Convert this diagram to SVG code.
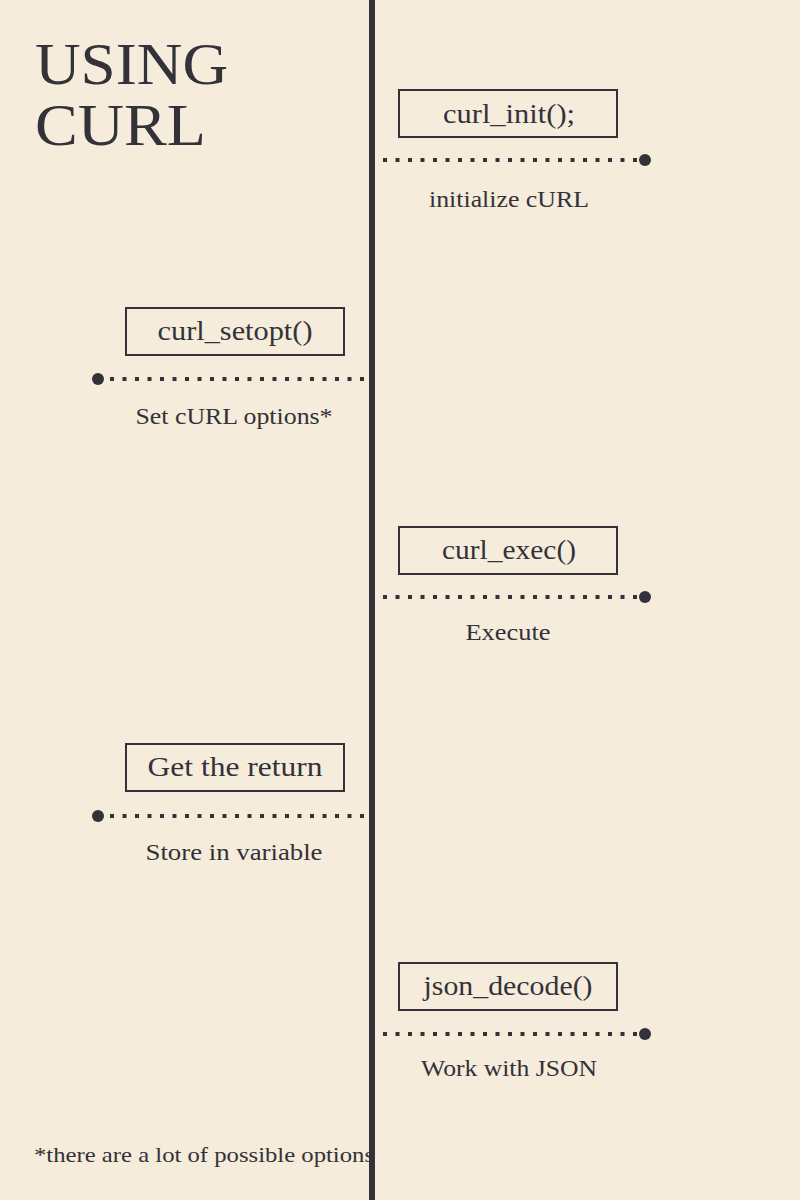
<svg xmlns="http://www.w3.org/2000/svg" width="800" height="1200" viewBox="0 0 800 1200">
<style>
.box{fill:none;stroke:#333238;stroke-width:2}
.fn{font-family:"Liberation Serif",serif;font-size:28px;fill:#333238;text-anchor:middle}
.lb{font-family:"Liberation Serif",serif;font-size:24px;fill:#333238;text-anchor:middle}
.dots{stroke:#333238;stroke-width:4;stroke-dasharray:4 8.5;fill:none}
.end{fill:#333238}
.title{font-family:"Liberation Serif",serif;font-size:60px;fill:#333238}
</style>
<rect width="800" height="1200" fill="#f5ecdc"/>
<g id="title">
<text class="title" x="35" y="84" textLength="193" lengthAdjust="spacingAndGlyphs">USING</text>
<text class="title" x="35" y="145" textLength="171" lengthAdjust="spacingAndGlyphs">CURL</text>
</g>
<g id="footnote">
<text x="34" y="1162" font-family="Liberation Serif, serif" font-size="21" fill="#333238" textLength="340" lengthAdjust="spacingAndGlyphs">*there are a lot of possible options</text>
</g>
<g id="connectors">
<line class="dots" x1="383" y1="160" x2="640" y2="160"/>
<circle class="end" cx="645" cy="160" r="6"/>
<line class="dots" x1="110" y1="379" x2="365" y2="379"/>
<circle class="end" cx="98" cy="379" r="6"/>
<line class="dots" x1="383" y1="597" x2="640" y2="597"/>
<circle class="end" cx="645" cy="597" r="6"/>
<line class="dots" x1="110" y1="816" x2="365" y2="816"/>
<circle class="end" cx="98" cy="816" r="6"/>
<line class="dots" x1="383" y1="1034" x2="640" y2="1034"/>
<circle class="end" cx="645" cy="1034" r="6"/>
</g>
<g id="timeline">
<rect x="369" y="0" width="6" height="1200" fill="#333238"/>
</g>
<g id="n1">
<rect class="box" x="399" y="90" width="218" height="47"/>
<text class="fn" x="509" y="123" textLength="132" lengthAdjust="spacingAndGlyphs">curl_init();</text>
<text class="lb" x="509" y="207" textLength="160" lengthAdjust="spacingAndGlyphs">initialize cURL</text>
</g>
<g id="n2">
<rect class="box" x="126" y="308" width="218" height="47"/>
<text class="fn" x="235" y="340" textLength="155" lengthAdjust="spacingAndGlyphs">curl_setopt()</text>
<text class="lb" x="234" y="424" textLength="197" lengthAdjust="spacingAndGlyphs">Set cURL options*</text>
</g>
<g id="n3">
<rect class="box" x="399" y="527" width="218" height="47"/>
<text class="fn" x="509" y="559" textLength="134" lengthAdjust="spacingAndGlyphs">curl_exec()</text>
<text class="lb" x="508" y="640" textLength="85" lengthAdjust="spacingAndGlyphs">Execute</text>
</g>
<g id="n4">
<rect class="box" x="126" y="744" width="218" height="47"/>
<text class="fn" x="235" y="776" textLength="175" lengthAdjust="spacingAndGlyphs">Get the return</text>
<text class="lb" x="234" y="860" textLength="177" lengthAdjust="spacingAndGlyphs">Store in variable</text>
</g>
<g id="n5">
<rect class="box" x="399" y="963" width="218" height="47"/>
<text class="fn" x="508" y="995" textLength="169" lengthAdjust="spacingAndGlyphs">json_decode()</text>
<text class="lb" x="509" y="1076" textLength="176" lengthAdjust="spacingAndGlyphs">Work with JSON</text>
</g>
</svg>
